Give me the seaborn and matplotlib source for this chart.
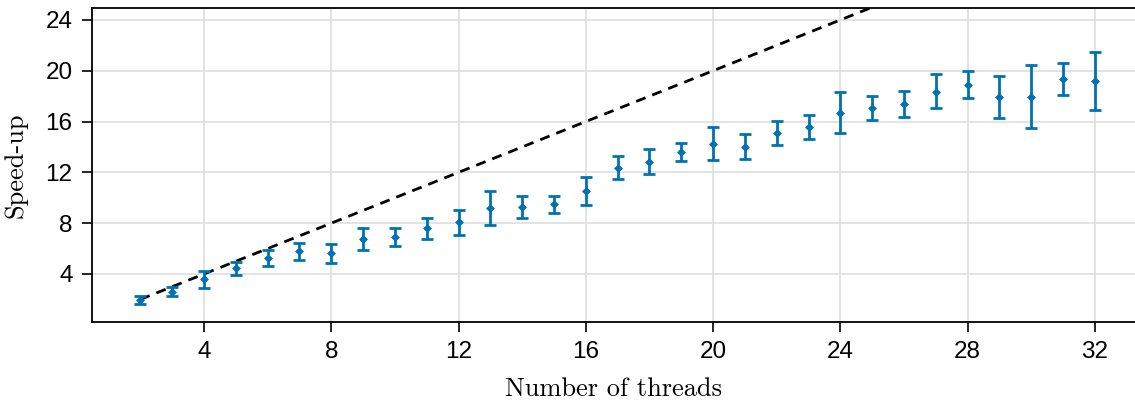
import matplotlib
matplotlib.use("Agg")
import matplotlib.pyplot as plt
import pandas as pd
import seaborn as sns

threads = list(range(2, 33))
speedup = [1.95, 2.61, 3.60, 4.45, 5.23, 5.81, 5.65, 6.76, 6.93, 7.62, 8.07, 9.20, 9.28, 9.51,
           10.54, 12.37, 12.82, 13.63, 14.24, 14.00, 15.10, 15.57, 16.70, 17.04, 17.39, 18.36,
           18.90, 17.94, 17.94, 19.35, 19.20]
err_lo = [1.61, 2.27, 2.92, 3.95, 4.60, 5.08, 4.90, 5.87, 6.23, 6.78, 7.10, 7.89, 8.38, 8.83,
          9.40, 11.45, 11.85, 12.87, 12.95, 13.06, 14.13, 14.63, 15.10, 16.13, 16.34, 17.04,
          17.83, 16.26, 15.47, 18.07, 16.89]
err_hi = [2.29, 2.95, 4.24, 4.94, 5.89, 6.42, 6.36, 7.62, 7.62, 8.41, 9.06, 10.54, 10.14, 10.14,
          11.61, 13.29, 13.82, 14.34, 15.57, 15.02, 16.05, 16.52, 18.30, 18.02, 18.38, 19.75,
          19.96, 19.57, 20.46, 20.59, 21.46]
ideal = threads

x_ticks = [4, 8, 12, 16, 20, 24, 28, 32]
y_ticks = [4, 8, 12, 16, 20, 24]

df = pd.DataFrame({"threads": threads, "speedup": speedup, "lo": err_lo, "hi": err_hi, "ideal": ideal})

sns.set_theme(style="ticks")
plt.rcParams["font.family"] = ["Liberation Sans", "DejaVu Sans"]
plt.rcParams["text.color"] = "black"
blue = "#0072B2"

fig = plt.figure(figsize=(11.35, 4.0), dpi=100)
ax = fig.add_axes([92 / 1135, 78 / 400, 1 - 92 / 1135, 314 / 400])

# ideal scaling, dashed
sns.lineplot(data=df, x="threads", y="ideal", ax=ax, color="black", linestyle=(0, (3.6, 2.6)),
             linewidth=2, zorder=2)
ax.errorbar(df["threads"], df["speedup"],
            yerr=[df["speedup"] - df["lo"], df["hi"] - df["speedup"]],
            fmt="none", ecolor=blue, elinewidth=2, capsize=4.5, capthick=2, zorder=3)
sns.scatterplot(data=df, x="threads", y="speedup", ax=ax, marker="D", s=16, color=blue,
                edgecolor=blue, linewidth=0.5, zorder=4)

ax.set_xlim(0.48, 33.26)
ax.set_ylim(0.22, 24.94)
ax.set_xticks(x_ticks)
ax.set_yticks(y_ticks)
ax.grid(True, color="#dedede", linewidth=1.2)
ax.set_axisbelow(True)
ax.tick_params(axis="both", direction="out", length=7, width=1.2, labelsize=17.5, pad=7,
               color="black", labelcolor="black")
for side in ["left", "bottom", "top"]:
    ax.spines[side].set_linewidth(1.3)
    ax.spines[side].set_color("black")
ax.spines["right"].set_visible(False)

ax.set_xlabel("Number of threads", fontfamily="cmr10", fontsize=19, color="black")
ax.set_ylabel("Speed-up", fontfamily="cmr10", fontsize=19, color="black")
ax.xaxis.set_label_coords(0.5, -0.175)
ax.yaxis.set_label_coords(-0.062, 0.5)

fig.savefig("out.png", dpi=100)
